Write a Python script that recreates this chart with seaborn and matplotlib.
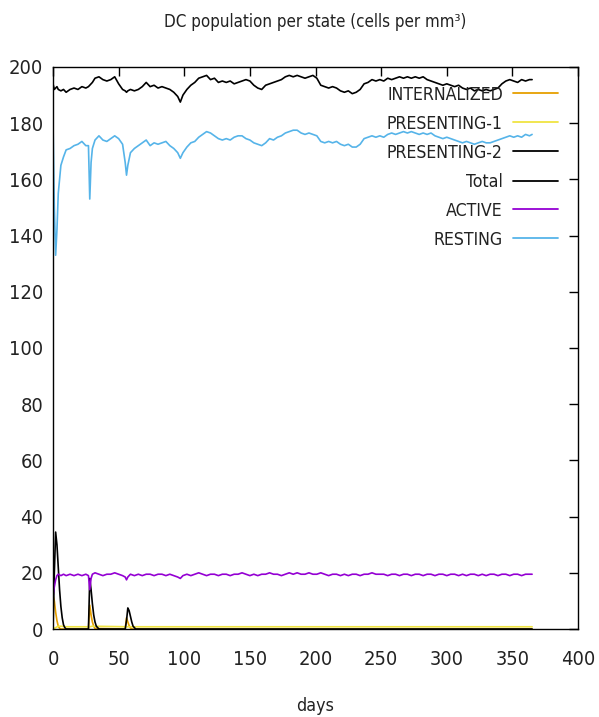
import matplotlib
matplotlib.use("Agg")
import matplotlib.pyplot as plt
from matplotlib import font_manager
import seaborn as sns

# sample days shared by Total / RESTING / ACTIVE
days = [0, 1, 2, 3, 4, 6, 8, 10, 13, 16, 19, 22, 25, 27, 28, 29,
        30, 32, 35, 38, 41, 44, 47, 50, 53, 55, 56, 57, 59,
        62, 65, 68, 71, 74, 77, 80, 83, 86, 89, 92, 95, 97, 99,
        102, 105, 108, 111, 114, 117, 120, 123, 126, 129,
        132, 135, 138, 141, 144, 147, 150, 153, 156, 159,
        162, 165, 168, 171, 174, 177, 180, 183, 186, 189,
        192, 195, 198, 201, 204, 207, 210, 213, 216, 219,
        222, 225, 228, 231, 234, 237, 240, 243, 246, 249,
        252, 255, 258, 261, 264, 267, 270, 273, 276, 279,
        282, 285, 288, 291, 294, 297, 300, 303, 306, 309,
        312, 315, 318, 321, 324, 327, 330, 333, 336, 339,
        342, 345, 348, 351, 354, 357, 360, 363, 365]

total = [194, 192, 192.5, 193, 192, 191.5, 192, 191, 192, 192.5, 192, 193, 192.5, 193, 193.5, 194,
         194.5, 196, 196.5, 195.5, 195, 195.5, 196.5, 194, 192, 191.5, 191, 191.5, 192,
         191.5, 192, 193, 194.5, 193, 193.5, 192.5, 193, 192.5, 192, 191, 189.5, 187.5, 190,
         192, 193.5, 194.5, 196, 196.5, 197, 195.5, 196, 194.5, 195,
         194.5, 195, 194, 194.5, 195, 195.5, 195, 193.5, 192.5, 192,
         193.5, 194, 194.5, 195, 195.5, 196.5, 197, 196.5, 197, 196.5,
         196, 196.5, 197, 196, 193.5, 193, 192.5, 193, 192.5, 191.5,
         191, 191.5, 190.5, 191, 192, 194, 194.5, 195.5, 195, 195.5,
         195, 196, 195.5, 196, 196.5, 196, 196.5, 196, 196.5, 196,
         196.5, 195.5, 195, 194.5, 194, 193.5, 194, 193.5, 193, 193.5,
         192.5, 192, 192.5, 191.5, 192, 191.5, 192, 191.5, 192, 192.5,
         194, 195, 195.5, 195, 194.5, 195.5, 195, 195.5, 195.5]

resting = [180, 150, 133, 142, 155, 165, 168, 170.5, 171, 172, 172.5, 173.5, 172, 172, 153, 166,
           171, 174, 175.5, 174, 173.5, 174.5, 175.5, 174.5, 172.5, 166, 161.5, 165, 169.5,
           171, 172, 173, 174, 172, 173, 172.5, 173, 173.5, 172, 171, 169.5, 167.5, 169.5,
           171.5, 173, 173.5, 175, 176, 177, 176.5, 175.5, 174.5, 174,
           174.5, 174, 175, 175.5, 175.5, 174.5, 174, 173, 172.5, 172,
           173, 174.5, 174, 175, 175.5, 176.5, 177, 177.5, 177.5, 176.5,
           176, 176.5, 176, 175.5, 173.5, 173, 173.5, 173, 173.5, 172.5,
           172, 172.5, 171.5, 171.5, 172.5, 174.5, 175, 175.5, 175, 175.5,
           175, 176, 176.5, 176, 176.5, 177, 176.5, 177, 176.5, 176,
           176.5, 176, 176.5, 175.5, 175, 174.5, 175, 174.5, 174, 173.5,
           173, 173.5, 173, 172.5, 173, 173.5, 173, 173, 173.5, 174,
           174.5, 175, 175.5, 175, 175.5, 175, 176, 175.5, 176]

active = [12, 15, 17.5, 19, 19.5, 19, 19.5, 19, 19.5, 19, 19.5, 19, 19.5, 19, 14, 18,
          19.5, 20, 19.5, 19, 19.5, 19.5, 20, 19.5, 19, 18.5, 17.5, 18.5, 19.5,
          19, 19.5, 19, 19.5, 19.5, 19, 19.5, 19.5, 19, 19.5, 19, 18.5, 18, 19,
          19.5, 19, 19.5, 20, 19.5, 19, 19.5, 19.5, 19, 19.5,
          19.5, 19, 19.5, 19.5, 20, 19.5, 19, 19.5, 19, 19.5,
          19.5, 20, 19.5, 19.5, 19, 19.5, 20, 19.5, 20, 19.5,
          19.5, 20, 19.5, 19.5, 20, 19.5, 19, 19.5, 19.5, 19,
          19.5, 19, 19.5, 19.5, 19, 19.5, 19.5, 20, 19.5, 19.5,
          19.5, 19, 19.5, 19.5, 19, 19.5, 19.5, 19, 19.5, 19.5,
          19, 19.5, 19.5, 19, 19.5, 19.5, 19, 19.5, 19.5, 19,
          19.5, 19, 19.5, 19.5, 19, 19.5, 19, 19.5, 19.5, 19,
          19.5, 19.5, 19, 19.5, 19.5, 19, 19.5, 19.5, 19.5]

# short-lived states (spikes after each injection)
pres2_days = [0, 1, 2, 3, 4, 5, 6, 7, 8, 9, 10, 27, 28, 29, 30, 31, 32, 33, 35,
              55, 56, 57, 58, 59, 60, 61, 63, 365]
pres2 = [0, 20, 34.5, 30, 22, 14, 8, 4, 1.5, 0.5, 0, 0, 18, 14, 9, 5, 2.5, 1, 0,
         0, 3, 7.5, 6.5, 4.5, 2.5, 1, 0, 0]

int_days = [0, 1, 2, 3, 4, 5, 6, 27, 28, 29, 30, 31, 32, 55, 56, 57, 58, 59, 60, 365]
internalized = [12, 10, 6, 3, 1, 0.3, 0, 0, 8.5, 5, 2.5, 1, 0.2, 0, 4, 2.5, 1.2, 0.4, 0, 0]

pres1_days = [0, 2, 4, 6, 10, 28, 30, 56, 58, 100, 200, 300, 365]
pres1 = [0, 0.5, 1, 1, 0.8, 0.8, 1, 0.8, 0.8, 0.8, 0.8, 0.8, 0.8]

series = [
    ("INTERNALIZED", int_days, internalized, "#e69f00"),
    ("PRESENTING-1", pres1_days, pres1, "#f0e442"),
    ("PRESENTING-2", pres2_days, pres2, "black"),
    ("Total", days, total, "black"),
    ("ACTIVE", days, active, "#9400d3"),
    ("RESTING", days, resting, "#56b4e9"),
]

sns.set_style("white")

# gnuplot used a condensed sans; take DejaVu Sans Condensed if present
has_cond = any(f.name == "DejaVu Sans" and "condensed" in str(f.stretch)
               for f in font_manager.fontManager.ttflist)
if has_cond:
    plt.rcParams["font.family"] = ["DejaVu Sans"]
    plt.rcParams["font.stretch"] = "condensed"
    fs_tick, fs_title, fs_key, fs_label = 14.4, 12.2, 12.7, 12.8
else:
    plt.rcParams["font.family"] = ["Liberation Sans", "DejaVu Sans"]
    fs_tick, fs_title, fs_key, fs_label = 14.9, 13, 11.6, 12.9

txt = "#222222"

fig = plt.figure(figsize=(5.99, 7.17), dpi=100)
ax = fig.add_axes([0.0885, 0.1227, 0.8765, 0.7839])

for name, xs, ys, col in series:
    sns.lineplot(x=xs, y=ys, ax=ax, color=col, linewidth=1.2, legend=False)

ax.set_xlim(0, 400)
ax.set_ylim(0, 200)
ax.set_xticks(range(0, 401, 50))
ax.set_yticks(range(0, 201, 20))
ax.tick_params(direction="in", top=True, right=True, length=6.5, width=1,
               labelsize=fs_tick, color="black", labelcolor=txt)
ax.tick_params(axis="x", pad=15)
ax.tick_params(axis="y", pad=7)
for sp in ax.spines.values():
    sp.set_color("black")
    sp.set_linewidth(1)
ax.set_xlabel("days", fontsize=fs_label, labelpad=20, color=txt)

fig.text(0.5267, 0.969, "DC population per state (cells per mm\u00b3)",
         ha="center", va="center", fontsize=fs_title, color=txt)

# gnuplot-style key: labels right-aligned, sample line to the right
key_y = [0.950, 0.8986, 0.847, 0.795, 0.744, 0.692]
for (name, xs, ys, col), ky in zip(series, key_y):
    ax.text(0.857, ky, name, transform=ax.transAxes, ha="right", va="center",
            fontsize=fs_key, color=txt)
    ax.plot([0.876, 0.962], [ky + 0.003, ky + 0.003], transform=ax.transAxes,
            color=col, linewidth=1.3)

fig.savefig("out.png", dpi=100)
